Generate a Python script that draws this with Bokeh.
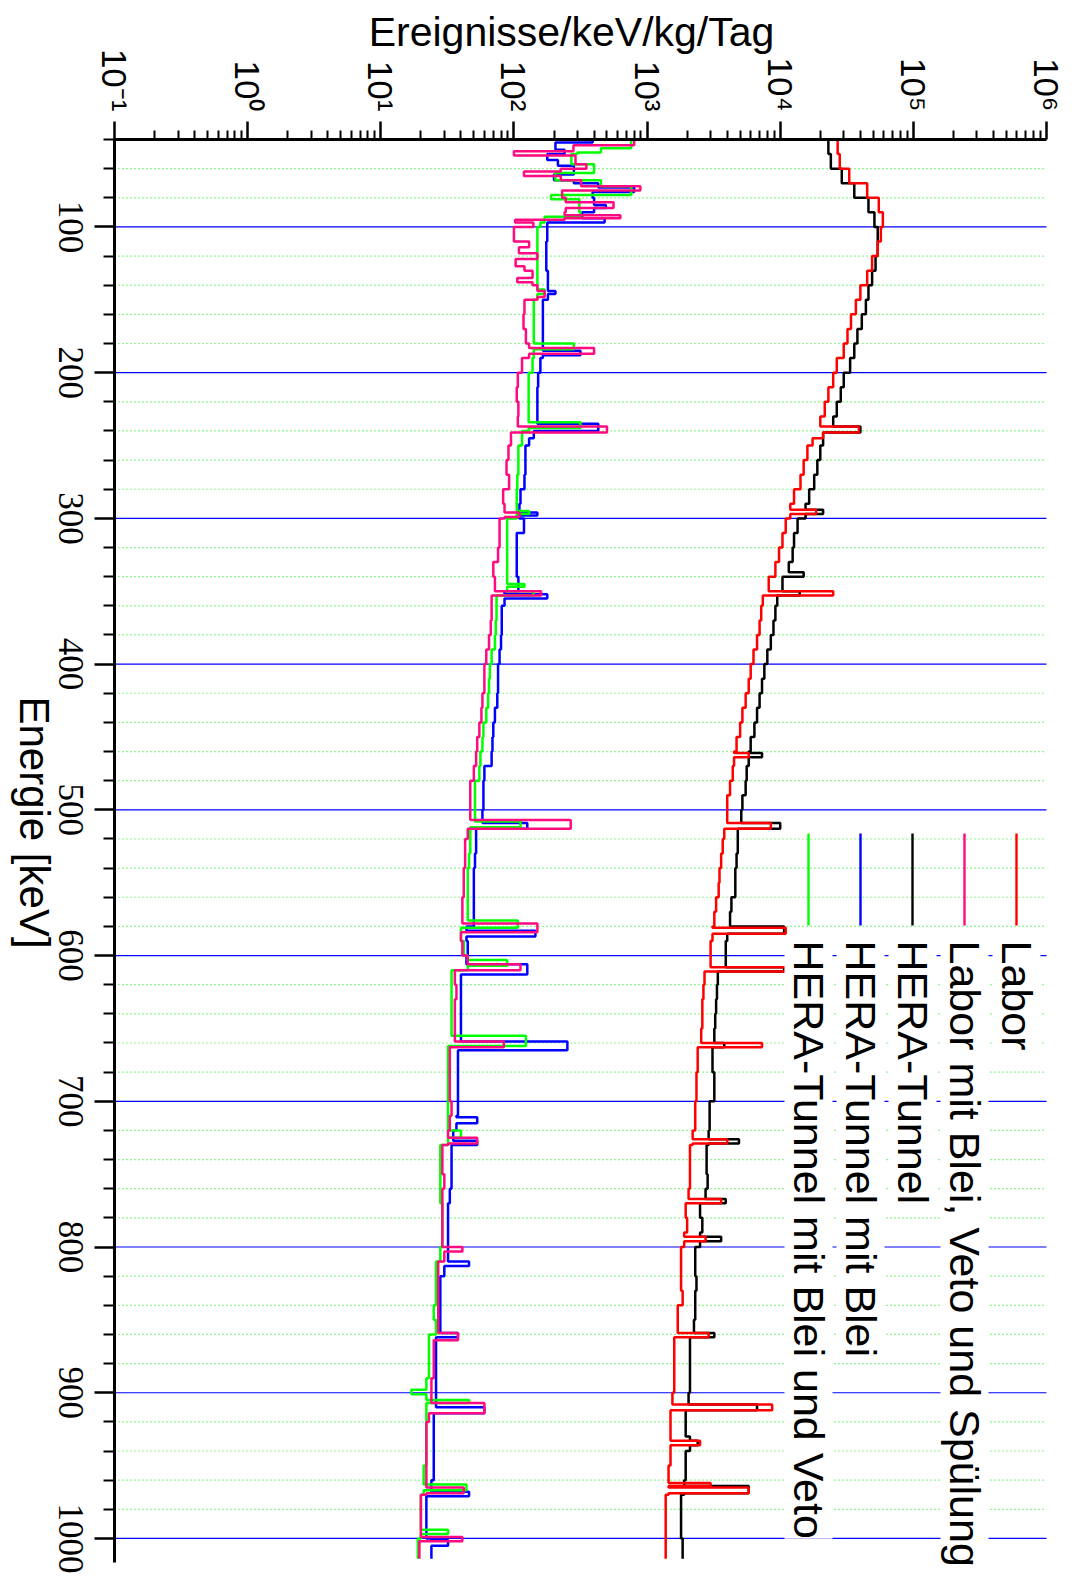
import math
import numpy as np
from bokeh.plotting import figure
from bokeh.models import (Range1d, FixedTicker, Label, LabelSet, BoxAnnotation, LogAxis,
                          LinearAxis, ColumnDataSource)
from bokeh.embed import file_html
from bokeh.resources import INLINE

# ---------------- data ----------------
E_START = 40          # keV, first bin edge
E_END = 1014          # keV, last bin edge
BIN_STARTS = list(range(40, 1010, 10))   # 10 keV bins, last bin runs to E_END

SERIES_NAMES = ["Labor", "Labor mit Blei, Veto und Spülung", "HERA-Tunnel",
                "HERA-Tunnel mit Blei", "HERA-Tunnel mit Blei und Veto"]

LABOR = [2.7e4, 2.8e4, 3.3e4, 4.5e4, 5.5e4, 5.9e4, 5.7e4, 5.4e4, 4.9e4, 4.5e4,
         4.0e4, 3.7e4, 3.4e4, 3.2e4, 3.0e4, 2.66e4, 2.5e4, 2.3e4, 2.16e4, 2.0e4,
         1.75e4, 1.6e4, 1.5e4, 1.42e4, 1.27e4, 1.19e4, 1.1e4, 1.04e4, 9.8e3, 9.2e3,
         8.2e3, 7.4e3, 7.2e3, 7.0e3, 6.7e3, 6.3e3, 6.0e3, 5.8e3, 5.5e3, 5.2e3,
         5.0e3, 4.7e3, 4.5e3, 4.4e3, 4.2e3, 4.0e3, 4.0e3, 3.8e3, 3.7e3, 3.6e3,
         3.5e3, 3.45e3, 3.3e3, 3.2e3, 3.1e3, 3.0e3, 3.0e3, 2.7e3, 2.65e3, 2.6e3,
         2.6e3, 2.55e3, 2.4e3, 2.4e3, 2.35e3, 2.35e3, 2.3e3, 2.3e3, 2.2e3, 2.1e3,
         2.1e3, 2.1e3, 2.05e3, 1.95e3, 2.0e3, 1.9e3, 1.8e3, 1.8e3, 1.8e3, 1.85e3,
         1.7e3, 1.7e3, 1.6e3, 1.6e3, 1.6e3, 1.6e3, 1.55e3, 1.5e3, 1.5e3, 1.5e3,
         1.5e3, 1.45e3, 1.45e3, 1.38e3, 1.38e3, 1.38e3, 1.38e3]
LABOR_PEAKS = [(237, 241, 3.9e4), (241, 245, 2.1e4), (294, 297, 1.86e4), (350, 353, 2.5e4),
               (461, 464, 5.8e3), (509, 513, 8.5e3), (581, 585, 1.1e4), (608, 611, 1.1e4),
               (660, 663, 7.3e3), (726, 729, 4.0e3), (767, 770, 3.6e3), (793, 796, 2.75e3),
               (859, 862, 2.9e3), (908, 912, 8.7e3), (933, 936, 2.5e3), (962, 964, 3.0e3),
               (965, 969, 5.8e3)]

HERA = [2.3e4, 2.4e4, 2.9e4, 3.6e4, 4.6e4, 5.1e4, 5.4e4, 5.4e4, 5.2e4, 4.9e4,
        4.6e4, 4.4e4, 4.1e4, 3.8e4, 3.6e4, 3.35e4, 3.0e4, 2.85e4, 2.66e4, 2.5e4,
        2.1e4, 2.0e4, 1.9e4, 1.8e4, 1.65e4, 1.55e4, 1.35e4, 1.27e4, 1.24e4, 1.16e4,
        1.04e4, 9.5e3, 9.2e3, 8.9e3, 8.5e3, 8.0e3, 7.6e3, 7.3e3, 7.0e3, 6.7e3,
        6.4e3, 6.0e3, 5.8e3, 5.6e3, 5.5e3, 5.2e3, 5.1e3, 4.8e3, 4.8e3, 4.7e3,
        4.6e3, 4.6e3, 4.3e3, 4.2e3, 4.0e3, 3.9e3, 3.9e3, 3.4e3, 3.35e3, 3.3e3,
        3.25e3, 3.2e3, 3.1e3, 3.1e3, 3.2e3, 3.2e3, 2.95e3, 2.95e3, 2.9e3, 2.8e3,
        2.8e3, 2.85e3, 2.75e3, 2.5e3, 2.6e3, 2.5e3, 2.3e3, 2.3e3, 2.35e3, 2.3e3,
        2.3e3, 2.25e3, 2.1e3, 2.1e3, 2.1e3, 2.1e3, 2.05e3, 1.95e3, 1.95e3, 2.1e3,
        1.95e3, 1.95e3, 1.9e3, 1.8e3, 1.8e3, 1.8e3, 1.85e3]
HERA_PEAKS = [(237, 241, 4.0e4), (294, 297, 2.1e4), (337, 340, 1.5e4), (350, 353, 1.4e4),
              (461, 464, 7.3e3), (509, 513, 1.0e4), (580, 585, 1.07e4), (608, 611, 1.07e4),
              (660, 663, 3.8e3), (726, 729, 4.9e3), (767, 770, 3.9e3), (793, 796, 3.6e3),
              (859, 862, 3.2e3), (908, 912, 6.7e3), (933, 936, 2.4e3), (964, 969, 5.8e3)]

LABOR_BVS = [280, 290, 225, 230, 245, 240, 100, 130, 120, 138,
             150, 120, 118, 123, 130, 115, 107, 105, 108, 107,
             95, 91, 88, 92, 83, 85, 78, 78, 76, 70,
             72, 68, 68, 67, 65, 62, 60, 60, 58, 57,
             55, 53, 52, 50, 47, 47, 47, 45, 43, 43,
             42, 42, 41, 41, 40, 41, 45, 36, 37, 36,
             36, 36, 33, 33, 33, 33, 34, 33, 32, 29,
             29, 30, 29, 29, 29, 29, 30, 27, 27, 27,
             27, 27, 25, 25, 25, 24, 24, 23, 22, 22,
             22, 22, 22, 20, 20, 20, 19.5]
LABOR_BVS_PEAKS = [(40, 44, 800), (48, 51, 100), (57, 60, 350), (62, 65, 119), (68, 72, 320),
                   (72, 75, 890), (83, 87, 560), (92, 94, 630), (95, 97, 102), (97, 100, 140),
                   (114, 118, 109), (118, 122, 150), (122, 127, 103), (135, 138, 106),
                   (144, 148, 170), (183, 187, 400), (237, 241, 500), (296, 299, 110),
                   (350, 353, 160), (507, 513, 267), (578, 584, 150), (606, 610, 112),
                   (659, 663, 84), (725, 729, 53), (800, 803, 41), (859, 864, 38),
                   (907, 914, 60), (965, 969, 42), (999, 1002, 41)]

HERA_B = [205, 178, 282, 430, 400, 325, 178, 175, 175, 180,
          180, 165, 165, 165, 165, 158, 152, 150, 150, 150,
          130, 122, 122, 120, 112, 110, 119, 105, 105, 105,
          108, 85, 81, 81, 80, 78, 76, 76, 75, 72,
          70, 69, 68, 60, 59, 59, 58, 52, 52, 51,
          50, 50, 50, 50, 44, 45, 44, 40, 40, 40,
          40, 40, 38, 38, 38, 38, 38, 37, 35, 34,
          34, 34, 33, 32, 32, 32, 32, 30, 28, 28,
          28, 28, 26, 26, 26, 26, 26, 25, 25, 25,
          25, 25, 24, 22, 22, 22, 24]
HERA_B_PEAKS = [(40, 42, 390), (47, 50, 240), (54, 58, 214), (58, 60, 282), (64, 68, 200),
                (73, 76, 800), (76, 80, 390), (85, 87, 490), (94, 97, 480), (97, 100, 178),
                (144, 146, 205), (185, 188, 316), (235, 240, 430), (240, 245, 141),
                (296, 298, 150), (352, 355, 178), (509, 513, 126), (583, 587, 145),
                (606, 613, 126), (659, 665, 252), (711, 715, 53), (727, 730, 53),
                (810, 813, 46), (859, 862, 38), (910, 914, 60), (968, 971, 46), (1001, 1005, 32)]

HERA_BV = [760, 270, 400, 760, 310, 316, 150, 150, 150, 150,
           150, 141, 141, 141, 141, 138, 129, 129, 129, 129,
           115, 108, 108, 106, 105, 105, 89, 89, 89, 89,
           89, 74, 74, 73, 72, 68, 66, 65, 64, 62,
           59, 58, 56, 55, 51, 51, 51, 47, 47, 46,
           45, 45, 45, 45, 40, 42, 45, 34, 34, 34,
           34, 34, 32, 32, 32, 32, 32, 32, 32, 28,
           28, 28, 28, 29, 29, 29, 28, 26, 26, 26,
           25, 26, 23, 23, 23, 22, 22, 22, 22, 22,
           22, 21, 21, 20, 20, 20, 19]
HERA_BV_PEAKS = [(46, 49, 450), (49, 50, 300), (57, 60, 400), (63, 68, 205), (68, 72, 450),
                 (78, 81, 190), (93, 97, 170), (97, 100, 158), (143, 146, 170), (180, 184, 282),
                 (234, 238, 316), (295, 297, 130), (345, 347, 120), (350, 353, 140),
                 (508, 512, 112), (576, 581, 107), (603, 607, 89), (655, 662, 123),
                 (720, 725, 40), (898, 901, 17), (905, 907, 46), (963, 967, 44), (994, 997, 32)]

DECADES = [0.1, 1, 10, 100, 1e3, 1e4, 1e5, 1e6]
DECADE_LABELS = ["10⁻¹", "10⁰", "10¹", "10²", "10³", "10⁴", "10⁵", "10⁶"]
ENERGY_TICKS = [100, 200, 300, 400, 500, 600, 700, 800, 900, 1000]
ENERGY_LABELS = ["100", "200", "300", "400", "500", "600", "700", "800", "900", "1000"]
ENERGY_MINOR = [e for e in range(40, 1001, 20) if e % 100 != 0]
E_AXIS_END = 1016.5

COLORS = {"Labor": "#ff0000", "Labor mit Blei, Veto und Spülung": "#ff0a80",
          "HERA-Tunnel": "#000000", "HERA-Tunnel mit Blei": "#0000ff",
          "HERA-Tunnel mit Blei und Veto": "#00ff00"}


def stair(base, peaks):
    n = E_END - E_START
    cells = np.array([base[min(i // 10, len(base) - 1)] for i in range(n)], float)
    for a, b, v in peaks:
        cells[a - E_START:b - E_START] = v
    change = np.flatnonzero(np.diff(cells)) + 1
    starts = np.concatenate([[0], change])
    ends = np.concatenate([change, [n]])
    vals = cells[starts]
    ys = np.column_stack([starts + E_START, ends + E_START]).ravel()
    xs = np.repeat(vals, 2)
    return xs, ys


# ---------------- layout (pixels) ----------------
FONT = "Liberation Sans"
W, H = 1074, 1577
PX_L, PX_R, PX_T, PX_B = 114, 1046, 139, 1562   # data area inside the canvas

lo, hi = math.log10(DECADES[0]), math.log10(DECADES[-1])
dec_px = (PX_R - PX_L) / (hi - lo)
x_range = Range1d(10 ** (lo - PX_L / dec_px), 10 ** (hi + (W - PX_R) / dec_px))
kev_px = (PX_B - PX_T) / (E_AXIS_END - E_START)
y_range = Range1d(E_AXIS_END + (H - PX_B) / kev_px, E_START - PX_T / kev_px)

p = figure(width=W, height=H, x_axis_type="log", x_range=x_range, y_range=y_range,
           x_axis_location=None, y_axis_location=None,
           output_backend="svg", toolbar_location=None, min_border=0)
p.outline_line_color = None
p.background_fill_color = "white"
p.border_fill_color = "white"
p.grid.visible = False

# grid lines (minor dotted green every 20 keV, major blue every 100 keV)
p.segment(x0=DECADES[0], x1=DECADES[-1], y0=ENERGY_MINOR, y1=ENERGY_MINOR,
          line_color="#22ee22", line_width=1.2, line_dash="1 3")
p.segment(x0=DECADES[0], x1=DECADES[-1], y0=ENERGY_TICKS, y1=ENERGY_TICKS,
          line_color="#0000ff", line_width=1.2)

# data
series = [("HERA-Tunnel", HERA, HERA_PEAKS), ("Labor", LABOR, LABOR_PEAKS),
          ("HERA-Tunnel mit Blei", HERA_B, HERA_B_PEAKS),
          ("HERA-Tunnel mit Blei und Veto", HERA_BV, HERA_BV_PEAKS),
          ("Labor mit Blei, Veto und Spülung", LABOR_BVS, LABOR_BVS_PEAKS)]
for name, base, peaks in series:
    xs, ys = stair(base, peaks)
    p.line(xs, ys, line_color=COLORS[name], line_width=2.5)

# axes (fixed inside the canvas-wide frame)
xa = LogAxis(fixed_location=E_START, bounds=(DECADES[0], DECADES[-1]),
             ticker=FixedTicker(ticks=DECADES,
                                minor_ticks=[m * d for d in DECADES[:-1] for m in range(2, 10)]))
xa.major_label_overrides = {d: lab for d, lab in zip(DECADES, DECADE_LABELS)}
xa.major_label_orientation = -math.pi / 2
xa.major_tick_out = 18
xa.minor_tick_out = 9
xa.major_label_standoff = 10
p.add_layout(xa, "above")

ya = LinearAxis(fixed_location=DECADES[0], bounds=(E_START, E_AXIS_END),
                ticker=FixedTicker(ticks=ENERGY_TICKS, minor_ticks=ENERGY_MINOR))
ya.major_label_overrides = {t: "" for t in ENERGY_TICKS}
ya.major_tick_out = 20
ya.minor_tick_out = 11
p.add_layout(ya, "left")

for ax in (xa, ya):
    ax.major_tick_in = 0
    ax.minor_tick_in = 0
    ax.axis_line_width = 3
    ax.major_tick_line_width = 2.5
    ax.minor_tick_line_width = 2
    ax.major_label_text_font = FONT
    ax.major_label_text_font_size = "35px"
    ax.major_label_text_color = "black"

# energy tick labels, rotated clockwise and centred on their ticks
p.add_layout(LabelSet(source=ColumnDataSource(dict(y=ENERGY_TICKS, text=ENERGY_LABELS)),
                      x=70, y="y", text="text", x_units="screen", y_units="data",
                      angle=-math.pi / 2, text_align="center", text_baseline="middle",
                      text_font=FONT, text_font_size="35px", text_color="black"))

# legend (rotated, drawn by hand)
leg_x0 = 1016
leg_dx = 52
for i, name in enumerate(SERIES_NAMES):
    lx = leg_x0 - i * leg_dx
    p.add_layout(BoxAnnotation(left=lx - 1.2, right=lx + 1.2, top=H - 833, bottom=H - 925,
                               left_units="screen", right_units="screen",
                               top_units="screen", bottom_units="screen",
                               fill_color=COLORS[name], fill_alpha=1.0, line_color=None))
    p.add_layout(Label(x=lx, y=H - 940, x_units="screen", y_units="screen",
                       text=name, angle=-math.pi / 2, text_align="left",
                       text_baseline="middle", text_font=FONT, text_font_size="43px",
                       text_color="black",
                       background_fill_color="white", background_fill_alpha=1.0))

p.add_layout(Label(x=571, y=H - 31, x_units="screen", y_units="screen",
                   text="Ereignisse/keV/kg/Tag", text_align="center",
                   text_baseline="alphabetic", text_font=FONT, text_font_size="41px",
                   text_color="black"))
p.add_layout(Label(x=34, y=H - 822, x_units="screen", y_units="screen",
                   text="Energie [keV]", angle=-math.pi / 2, text_align="center",
                   text_baseline="middle", text_font=FONT, text_font_size="42px",
                   text_color="black"))

open("out.html", "w").write(file_html(p, INLINE))
